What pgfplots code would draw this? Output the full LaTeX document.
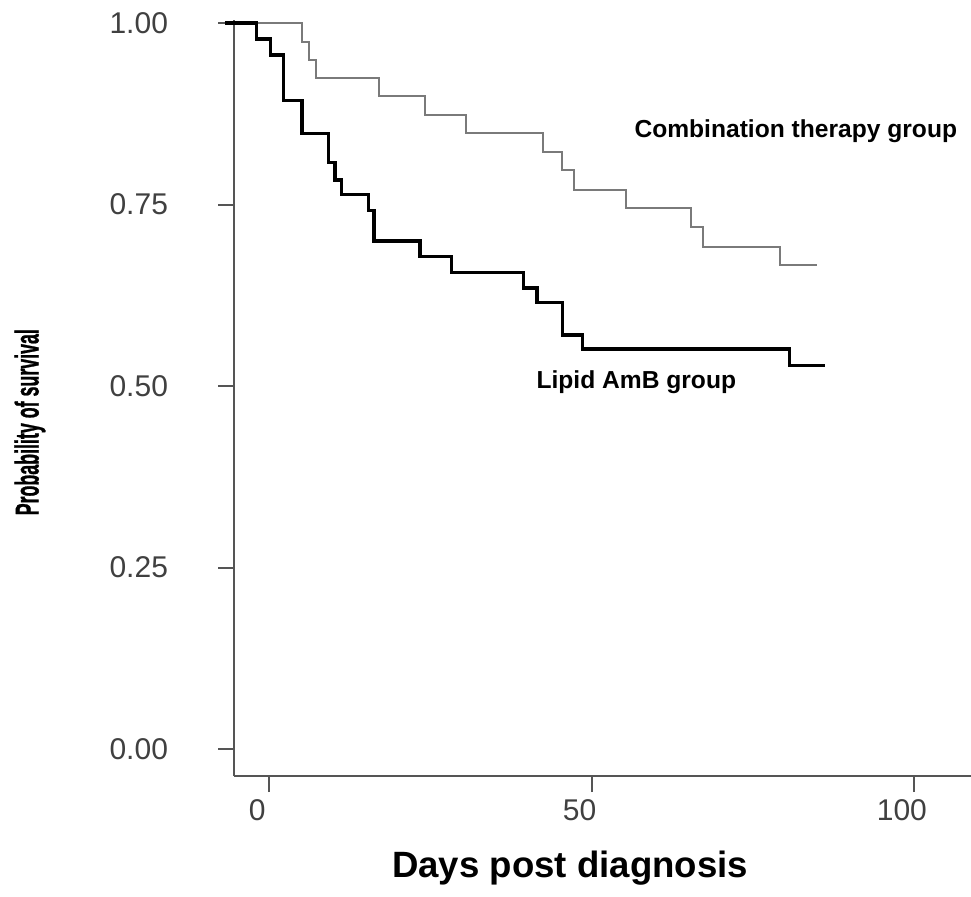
\documentclass[border=0pt]{standalone}
\usepackage{pgfplots}
\pgfplotsset{compat=1.18}
\usepackage{fontspec}
\setmainfont{Liberation Sans}
\newfontfamily\ylabfont[FakeBold=1.2]{Liberation Sans Bold}
\usepackage{graphicx}
\definecolor{axgray}{HTML}{555555}
\definecolor{curvegray}{HTML}{7A7A7A}
\begin{document}
\begin{tikzpicture}
\begin{axis}[
  scale only axis,
  width=368.5pt, height=378pt,
  xmin=-5.476, xmax=108.86,
  ymin=-0.0372, ymax=1.0041,
  clip=false,
  axis x line*=bottom, axis y line*=left,
  axis line style={axgray, line width=1pt, -},
  xtick={0,50,100}, xticklabels={0,50,100},
  ytick={0,0.25,0.5,0.75,1},
  yticklabels={0.00,0.25,0.50,0.75,1.00},
  /pgf/number format/assume math mode=true,
  tick align=outside,
  tick style={axgray, line width=1pt},
  major tick length=8pt,
  xticklabel style={font=\fontsize{15}{18}\selectfont, text=black!75, xshift=-6pt},
  yticklabel style={font=\fontsize{15}{18}\selectfont, text=black!75, xshift=-21.5pt},
  xlabel={Days post diagnosis},
  xlabel style={at={(axis description cs:0.456,-0.1217)}, anchor=center, font=\bfseries\fontsize{18.3}{22}\selectfont},
  ylabel={\scalebox{0.54}[1]{\ylabfont\fontsize{16.5}{19}\selectfont Probability of survival}},
  ylabel style={at={(axis description cs:-0.2768,0.468)}, anchor=center},
]
\addplot[const plot, curvegray, line width=1pt] coordinates {
(-6.9,1.000) (5.03,0.974) (6.2,0.949) (7.24,0.924) (17.06,0.900) (24.15,0.873)
(30.5,0.848) (42.4,0.823) (45.4,0.798) (47.3,0.770) (55.4,0.745) (65.4,0.719)
(67.3,0.692) (79.3,0.667) (84.9,0.667)
};
\addplot[const plot, black, line width=1.7pt] coordinates {
(-6.9,1.000) (-1.95,0.978) (0.22,0.956) (2.17,0.893) (5.07,0.848) (9.15,0.808)
(10.19,0.784) (11.23,0.764) (15.36,0.742) (16.24,0.700) (23.4,0.678) (28.3,0.656)
(39.4,0.635) (41.5,0.615) (45.5,0.570) (48.6,0.551) (80.7,0.528) (86.2,0.528)
};
\node[anchor=west, inner sep=0pt, font=\bfseries\fontsize{12.3}{14}\selectfont] at (axis cs:56.6,0.851) {Combination therapy group};
\node[anchor=west, inner sep=0pt, font=\bfseries\fontsize{12.3}{14}\selectfont] at (axis cs:41.4,0.5055) {Lipid AmB group};
\coordinate (bbl) at (axis cs:-41.78,-0.2025);
\coordinate (btr) at (axis cs:108.86,1.0317);
\end{axis}
\pgfresetboundingbox
\path (bbl) rectangle (btr);
\end{tikzpicture}
\end{document}
